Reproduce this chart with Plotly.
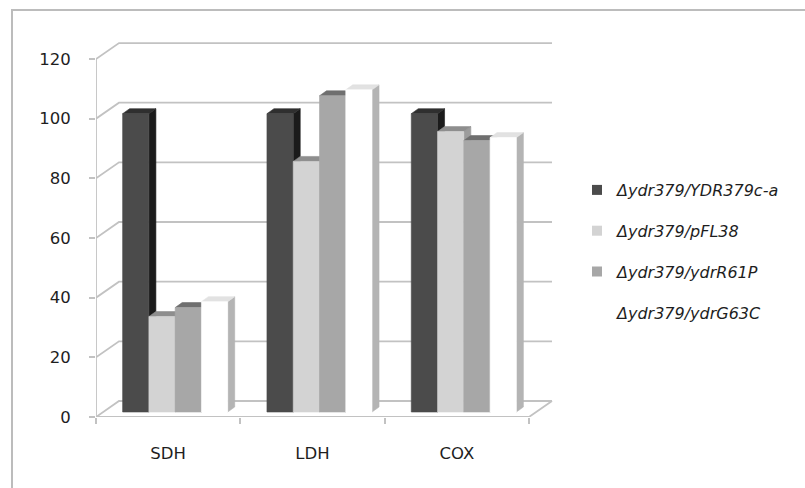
import plotly.graph_objects as go

# ---- data -------------------------------------------------------------
categories = ["SDH", "LDH", "COX"]
series_names = [
    "Δydr379/YDR379c-a",
    "Δydr379/pFL38",
    "Δydr379/ydrR61P",
    "Δydr379/ydrG63C",
]
ydr379c_a = [100, 100, 100]
pfl38 = [32, 84, 94]
ydr_r61p = [35, 106, 91]
ydr_g63c = [37, 108, 92]
y_ticks = [0, 20, 40, 60, 80, 100, 120]

series_values = [ydr379c_a, pfl38, ydr_r61p, ydr_g63c]

# ---- styling ----------------------------------------------------------
# (front, top, side) shades of each column
face_colors = [
    ("#4b4b4b", "#2f2f2f", "#1b1b1b"),
    ("#d3d3d3", "#8e8e8e", "#9c9c9c"),
    ("#a7a7a7", "#6f6f6f", "#7a7a7a"),
    ("#ffffff", "#e2e2e2", "#b4b4b4"),
]
grid_color = "#c2c2c2"
text_color = "#1e1e1e"
font_family = "DejaVu Sans"

W, H = 805, 488
M_L, M_R, M_T, M_B = 96, 245, 35, 71
PX_PER_CAT = 144.33
PX_PER_VAL = 2.983
plot_w = W - M_L - M_R
plot_h = H - M_T - M_B
x_max = plot_w / PX_PER_CAT
y_max = plot_h / PX_PER_VAL

# oblique projection offsets (in axis units)
wall_dx, wall_dy = 23 / PX_PER_CAT, 16 / PX_PER_VAL
bar_dx, bar_dy = 7 / PX_PER_CAT, 5 / PX_PER_VAL
bar_w = 0.182
n_cat = len(categories)
n_ser = len(series_values)
group_start = 0.5 - n_ser * bar_w / 2

fig = go.Figure()

# ---- walls and floor --------------------------------------------------
gx, gy = [], []
for v in y_ticks:
    gx += [0, wall_dx, n_cat + wall_dx, None]
    gy += [v, v + wall_dy, v + wall_dy, None]
gx += [0, 0, None, 0, n_cat, n_cat + wall_dx, None]
gy += [0, y_ticks[-1], None, 0, 0, wall_dy, None]
fig.add_trace(go.Scatter(
    x=gx, y=gy, mode="lines",
    line=dict(color=grid_color, width=1.8),
    hoverinfo="skip", showlegend=False,
))


def poly(xs, ys, color):
    fig.add_trace(go.Scatter(
        x=xs + [xs[0]], y=ys + [ys[0]], mode="lines",
        fill="toself", fillcolor=color,
        line=dict(color=color, width=0.6),
        hoverinfo="skip", showlegend=False,
    ))


# ---- 3-D columns, painted left to right --------------------------------
for i in range(n_cat):
    for j in range(n_ser):
        v = series_values[j][i]
        front, top, side = face_colors[j]
        xl = i + group_start + j * bar_w + bar_dx
        xr = xl + bar_w
        y0 = bar_dy
        y1 = v + bar_dy
        # side face
        poly([xr, xr + bar_dx, xr + bar_dx, xr],
             [y0, y0 + bar_dy, y1 + bar_dy, y1], side)
        # top face
        poly([xl, xr, xr + bar_dx, xl + bar_dx],
             [y1, y1, y1 + bar_dy, y1 + bar_dy], top)
        # front face
        poly([xl, xr, xr, xl], [y0, y0, y1, y1], front)

# ---- legend entries ---------------------------------------------------
for j, name in enumerate(series_names):
    fig.add_trace(go.Scatter(
        x=[None], y=[None], mode="markers", name=name,
        marker=dict(symbol="square", size=10, color=face_colors[j][0],
                    line=dict(width=0)),
        legendgroup=f"s{j}",
    ))

# dummy trace so the tick-mark axis is rendered
fig.add_trace(go.Scatter(x=[None], y=[None], xaxis="x2", yaxis="y",
                         showlegend=False, hoverinfo="skip"))


def px_to_paper_x(px):
    return (px - M_L) / plot_w


def px_to_paper_y(py):
    return 1 - (py - M_T) / plot_h


fig.update_layout(
    width=W, height=H,
    margin=dict(l=M_L, r=M_R, t=M_T, b=M_B),
    paper_bgcolor="white", plot_bgcolor="white",
    font=dict(family=font_family, size=16, color=text_color),
    xaxis=dict(
        range=[0, x_max], tickvals=[i + 0.5 for i in range(n_cat)],
        ticktext=categories, ticks="", showgrid=False, zeroline=False,
        showline=False, ticklabelstandoff=24,
        tickfont=dict(size=16.5, color=text_color),
    ),
    xaxis2=dict(
        range=[0, x_max], overlaying="x", anchor="y", side="bottom",
        tickvals=list(range(n_cat + 1)), ticks="outside", ticklen=6,
        tickwidth=1.5, tickcolor=grid_color, showticklabels=False,
        showgrid=False, zeroline=False, showline=False,
    ),
    yaxis=dict(
        range=[0, y_max], tickvals=y_ticks, ticks="outside", ticklen=6,
        tickwidth=1.5, tickcolor=grid_color, showgrid=False, zeroline=False,
        showline=False, ticklabelstandoff=15,
        tickfont=dict(size=16.5, color=text_color),
    ),
    legend=dict(
        xref="container", yref="container",
        x=577 / W, y=1 - 173 / H, xanchor="left", yanchor="top",
        font=dict(family=font_family, size=16, color=text_color,
                  style="italic"),
        tracegroupgap=17, bgcolor="rgba(0,0,0,0)",
    ),
    shapes=[dict(
        type="rect", xref="paper", yref="paper",
        x0=px_to_paper_x(12), x1=px_to_paper_x(W + 10),
        y0=px_to_paper_y(H + 10), y1=px_to_paper_y(10),
        line=dict(color="#bcbcbc", width=2), fillcolor="rgba(0,0,0,0)",
        layer="below",
    )],
)

fig.write_html("out.html")
